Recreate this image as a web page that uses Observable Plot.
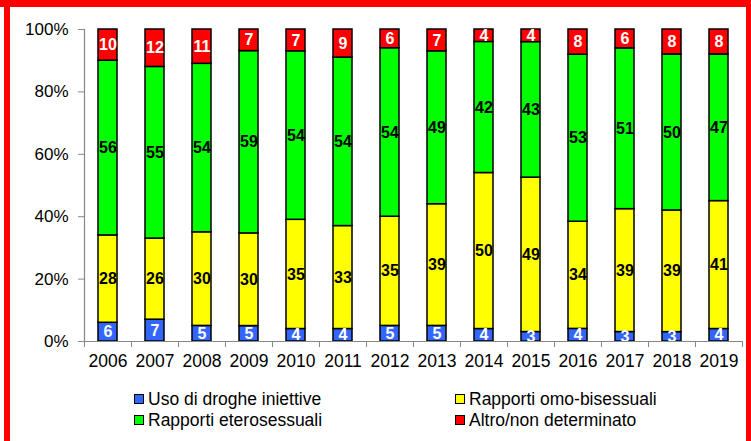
<!DOCTYPE html>
<html><head><meta charset="utf-8">
<script src="https://cdn.jsdelivr.net/npm/d3@7"></script>
<script src="https://cdn.jsdelivr.net/npm/@observablehq/plot@0.6"></script>
<style>
body{margin:0;background:#fff;}
#wrap{position:relative;width:751px;height:441px;overflow:hidden;font-family:"Liberation Sans",Arial,sans-serif;background:#fff}
#chart{position:absolute;left:0;top:0}
.bd{position:absolute;background:#ff0000}
.lg{position:absolute;font-size:17.5px;line-height:20px;color:#000;display:flex;align-items:center;white-space:nowrap}
.sw{width:8px;height:8px;border:1px solid #000;margin-right:4px}
</style></head>
<body><div id="wrap"><div id="chart"></div><div id="legend"></div>
<div class="bd" style="left:0;top:0;width:751px;height:7px"></div>
<div class="bd" style="left:4px;top:0;width:6px;height:441px"></div>
<div class="bd" style="left:746px;top:0;width:5px;height:441px"></div>
</div>
<script>
const years = [2006,2007,2008,2009,2010,2011,2012,2013,2014,2015,2016,2017,2018,2019];
const categories = ["Uso di droghe iniettive","Rapporti omo-bisessuali","Rapporti eterosessuali","Altro/non determinato"];
const colors = ["#3366FF","#FFFF00","#00FF00","#FF0000"];
const labelColors = ["#ffffff","#000000","#000000","#ffffff"];
const idu    = [6,7,5,5,4,4,5,5,4,3,4,3,3,4];
const msm    = [28,26,30,30,35,33,35,39,50,49,34,39,39,41];
const hetero = [56,55,54,59,54,54,54,49,42,43,53,51,50,47];
const other  = [10,12,11,7,7,9,6,7,4,4,8,6,8,8];
const yTicks = [0,0.2,0.4,0.6,0.8,1];
const legendOrder = [0,1,2,3];

const series = [idu, msm, hetero, other];
const rows = [];
years.forEach((yr, i) => {
  series.forEach((s, k) => rows.push({year: yr, category: categories[k], value: s[i], lc: labelColors[k]}));
});
const boundaries = [years[0] - 0.5, ...years.map(y => y + 0.5)];
const font = '"Liberation Sans", Arial, sans-serif';

const chart = Plot.plot({
  width: 751, height: 375,
  marginLeft: 84, marginRight: 9, marginTop: 29, marginBottom: 34,
  style: {fontFamily: font, background: "transparent", overflow: "visible"},
  x: {type: "linear", domain: [boundaries[0], boundaries[boundaries.length - 1]], label: null},
  y: {domain: [0, 1], label: null},
  color: {domain: categories, range: colors},
  marks: [
    Plot.rectY(rows, Plot.stackY({x1: d => d.year - 0.5, x2: d => d.year + 0.5, y: "value", z: "category", fill: "category", offset: "normalize", stroke: "#000", strokeWidth: 1.5, insetLeft: 14, insetRight: 14})),
    Plot.text(rows, Plot.stackY({x: "year", y: "value", z: "category", offset: "normalize", text: d => String(d.value), fill: "lc", fontWeight: "bold", fontSize: 16})),
    Plot.ruleY([0], {stroke: "#888", strokeWidth: 1.2}),
    Plot.ruleX([boundaries[0]], {stroke: "#888", strokeWidth: 1.2}),
    Plot.axisY({ticks: yTicks, tickFormat: d => Math.round(d * 100) + "%", tickSize: 6, tickPadding: 10, fontSize: 17, stroke: "#888", fill: "#000", label: null}),
    Plot.axisX({ticks: boundaries, tickSize: 6, tickFormat: () => "", stroke: "#888", label: null}),
    Plot.axisX({ticks: years, tickSize: 0, tickPadding: 13, tickFormat: d => String(d), fontSize: 17.5, fill: "#000", label: null})
  ]
});
document.getElementById("chart").appendChild(chart);

const legendPos = [[134, 389], [455, 389], [134, 410], [455, 410]];
const lg = document.getElementById("legend");
legendOrder.forEach((k, j) => {
  const el = document.createElement("div");
  el.className = "lg";
  el.style.left = legendPos[j][0] + "px";
  el.style.top = legendPos[j][1] + "px";
  el.innerHTML = `<span class="sw" style="background:${colors[k]}"></span><span>${categories[k]}</span>`;
  lg.appendChild(el);
});
</script>
</body></html>
